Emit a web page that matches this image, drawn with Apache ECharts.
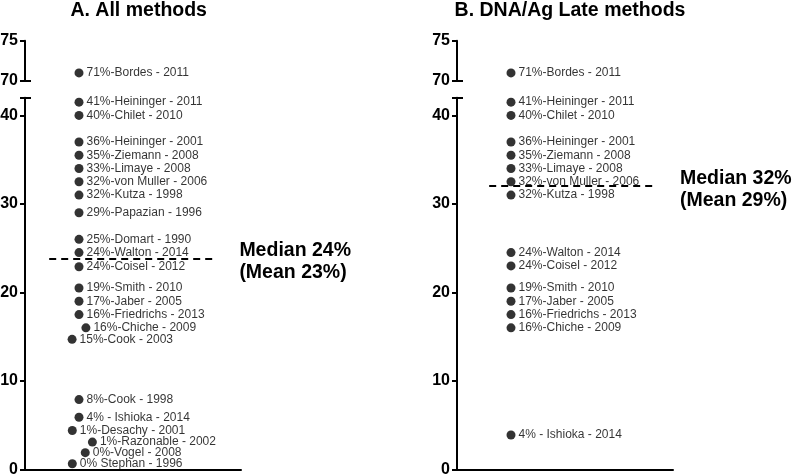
<!DOCTYPE html>
<html>
<head>
<meta charset="utf-8">
<script src="https://cdn.jsdelivr.net/npm/echarts@6/dist/echarts.min.js"></script>
<style>
  html, body { margin: 0; padding: 0; background: #fff; }
  #main { width: 800px; height: 476px; }
</style>
</head>
<body>
<div id="main"></div>
<script>
// panel A - all methods
var namesA = [
  '71%-Bordes - 2011', '41%-Heininger - 2011', '40%-Chilet - 2010',
  '36%-Heininger - 2001', '35%-Ziemann - 2008', '33%-Limaye - 2008',
  '32%-von Muller - 2006', '32%-Kutza - 1998', '29%-Papazian - 1996',
  '25%-Domart - 1990', '24%-Walton - 2014', '24%-Coisel - 2012',
  '19%-Smith - 2010', '17%-Jaber - 2005', '16%-Friedrichs - 2013',
  '16%-Chiche - 2009', '15%-Cook - 2003', '8%-Cook - 1998',
  '4% - Ishioka - 2014', '1%-Desachy - 2001', '1%-Razonable - 2002',
  '0%-Vogel - 2008', '0% Stephan - 1996'
];
var valuesA = [71, 41.5, 40, 37, 35.5, 34, 32.5, 31, 29, 26, 24.5, 22.9,
  20.5, 19, 17.5, 16, 14.7, 7.9, 5.9, 4.4, 3.1, 1.9, 0.65];
var jitterA = [2.5, 2.5, 2.5, 2.5, 2.5, 2.5, 2.5, 2.5, 2.5, 2.5, 2.5, 2.5,
  2.5, 2.5, 2.5, 2.82, 2.18, 2.5, 2.5, 2.19, 3.12, 2.79, 2.19];

// panel B - DNA/Ag late methods
var namesB = [
  '71%-Bordes - 2011', '41%-Heininger - 2011', '40%-Chilet - 2010',
  '36%-Heininger - 2001', '35%-Ziemann - 2008', '33%-Limaye - 2008',
  '32%-von Muller - 2006', '32%-Kutza - 1998', '24%-Walton - 2014',
  '24%-Coisel - 2012', '19%-Smith - 2010', '17%-Jaber - 2005',
  '16%-Friedrichs - 2013', '16%-Chiche - 2009', '4% - Ishioka - 2014'
];
var valuesB = [71, 41.5, 40, 37, 35.5, 34, 32.5, 31, 24.5, 23, 20.5, 19, 17.5, 16, 3.9];
var jitterB = [2.5, 2.5, 2.5, 2.5, 2.5, 2.5, 2.5, 2.5, 2.5, 2.5, 2.5, 2.5, 2.5, 2.5, 2.5];

var titles = ['A. All methods', 'B. DNA/Ag Late methods'];
var lowerTicks = [0, 10, 20, 30, 40];
var upperTicks = [70, 75];
var lowerMax = 42;
var medians = [23.8, 32];
var medianSpans = [[1.12, 8.86], [1.49, 9.26]];
var medianTexts = ['Median 24%\n(Mean 23%)', 'Median 32%\n(Mean 29%)'];

var FONT = 'Liberation Sans, Arial, sans-serif';

function pick(names, values, jitter, lo, hi) {
  var out = [];
  for (var i = 0; i < names.length; i++) {
    if (values[i] >= lo && values[i] <= hi) out.push([jitter[i], values[i], names[i]]);
  }
  return out;
}

var grids = [
  {left: 25, top: 40.7, width: 216, height: 40.3, outerBoundsMode: 'none'},
  {left: 25, top: 97.7, width: 216, height: 371.8, outerBoundsMode: 'none'},
  {left: 457, top: 40.7, width: 216, height: 40.3, outerBoundsMode: 'none'},
  {left: 457, top: 97.7, width: 216, height: 371.8, outerBoundsMode: 'none'}
];

var xAxes = [], yAxes = [], series = [];
var panels = [[namesA, valuesA, jitterA], [namesB, valuesB, jitterB]];

grids.forEach(function (g, i) {
  var upper = i % 2 === 0;
  xAxes.push({
    type: 'value', gridIndex: i, min: 0, max: 10,
    show: !upper,
    axisLine: {show: true, lineStyle: {color: '#000', width: 2}},
    axisTick: {show: false}, axisLabel: {show: false}, splitLine: {show: false}
  });
  var lo = upper ? upperTicks[0] : 0;
  var hi = upper ? upperTicks[1] : lowerMax;
  // main axis
  yAxes.push({
    type: 'value', gridIndex: i, min: lo, max: hi, position: 'left',
    axisLine: {show: true, lineStyle: {color: '#000', width: 2}},
    axisTick: {show: true, length: 5, lineStyle: {color: '#000', width: 2},
      customValues: upper ? upperTicks : lowerTicks.concat([lowerMax])},
    axisLabel: {color: '#000', fontSize: 16, fontWeight: 'bold', fontFamily: FONT, margin: 7,
      customValues: upper ? upperTicks : lowerTicks},
    splitLine: {show: false}
  });
  // little cap at the break
  yAxes.push({
    type: 'value', gridIndex: i, min: lo, max: hi, position: 'left', offset: 0,
    axisLine: {show: false},
    axisTick: {show: true, inside: true, length: 6, lineStyle: {color: '#000', width: 2},
      customValues: upper ? [upperTicks[0]] : [lowerMax]},
    axisLabel: {show: false},
    splitLine: {show: false}
  });

  var p = panels[Math.floor(i / 2)];
  var k = Math.floor(i / 2);
  var s = {
    type: 'scatter',
    xAxisIndex: i, yAxisIndex: i * 2,
    symbolSize: 9,
    itemStyle: {color: '#000'},
    clip: false,
    label: {
      show: true, position: 'right', distance: 3,
      color: '#000', fontSize: 12, fontFamily: FONT,
      formatter: function (d) { return d.value[2]; }
    },
    data: upper ? pick(p[0], p[1], p[2], 60, 100) : pick(p[0], p[1], p[2], 0, 50)
  };
  if (!upper) {
    s.markLine = {
      silent: true, symbol: 'none',
      lineStyle: {color: '#000', width: 2, type: [7, 5]},
      label: {
        show: true, position: 'end', distance: 23,
        formatter: medianTexts[k],
        color: '#000', fontSize: 19.5, fontWeight: 'bold', fontFamily: FONT,
        lineHeight: 22, align: 'left', offset: [0, 3]
      },
      data: [[{coord: [medianSpans[k][0], medians[k]]}, {coord: [medianSpans[k][1], medians[k]]}]]
    };
  }
  series.push(s);
});

var chart = echarts.init(document.getElementById('main'), null, {renderer: 'canvas'});
chart.setOption({
  animation: false,
  backgroundColor: '#fff',
  title: [
    {text: titles[0], left: 133.7, top: -4, textAlign: 'center',
      textStyle: {fontSize: 19.5, fontWeight: 'bold', color: '#000', fontFamily: FONT}},
    {text: titles[1], left: 565, top: -4, textAlign: 'center',
      textStyle: {fontSize: 19.5, fontWeight: 'bold', color: '#000', fontFamily: FONT}}
  ],
  grid: grids,
  xAxis: xAxes,
  yAxis: yAxes,
  series: series
});
</script>
</body>
</html>
